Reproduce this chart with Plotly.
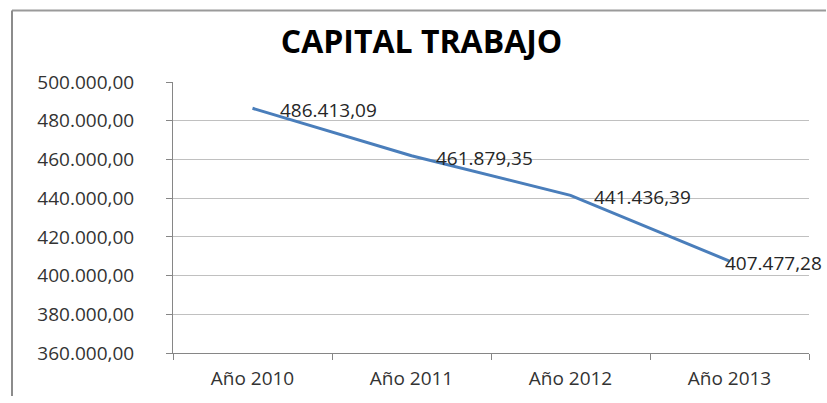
import plotly.graph_objects as go

# Working capital by year
years = ["Año 2010", "Año 2011", "Año 2012", "Año 2013"]
capital = [486413.09, 461879.35, 441436.39, 407477.28]
y_ticks = [360000, 380000, 400000, 420000, 440000, 460000, 480000, 500000]

# horizontal nudge (px) of each value label from its point
label_shift = [25, 22, 21, -7]

FONT = "Open Sans"
W, H = 827, 403
L, R, T, B = 173, 18, 82, 44


def es_number(v):
    s = f"{v:,.2f}"
    return s.replace(",", "X").replace(".", ",").replace("X", ".")


fig = go.Figure()
fig.add_trace(go.Scatter(
    x=years, y=capital, mode="lines",
    line=dict(color="#4A7EBB", width=3),
    hoverinfo="skip", showlegend=False,
))

for yr, v, dx in zip(years, capital, label_shift):
    fig.add_annotation(
        x=yr, y=v, text=es_number(v), showarrow=False,
        xanchor="left", yanchor="middle", xshift=dx, yshift=-2,
        font=dict(family=FONT, size=19, color="#262626"),
    )

pw = W - L - R
ph = H - T - B
# chart-area frame: left and top edges
x_left = (12 - L) / pw
x_right = (W - 1 - L) / pw
y_top = (H - B - 9) / ph
fig.add_shape(type="line", xref="paper", yref="paper",
              x0=x_left, x1=x_right, y0=y_top, y1=y_top,
              line=dict(color="#9A9A9A", width=2), layer="above")
fig.add_shape(type="line", xref="paper", yref="paper",
              x0=x_left, x1=x_left, y0=-B / ph, y1=y_top,
              line=dict(color="#8C8C8C", width=2), layer="above")

fig.update_layout(
    width=W, height=H,
    margin=dict(l=L, r=R, t=T, b=B),
    paper_bgcolor="white", plot_bgcolor="white",
    separators=",.",
    title=dict(
        text="<b>CAPITAL TRABAJO</b>",
        x=421.5 / W, xanchor="center", xref="container",
        y=1 - 42 / H, yanchor="middle", yref="container",
        font=dict(family=FONT, size=32, color="#000000"),
    ),
    xaxis=dict(
        type="category", range=[-0.5, 3.5],
        showline=True, linecolor="#868686", linewidth=1,
        ticks="outside", ticklen=6, tickcolor="#868686",
        tickson="boundaries", showgrid=False,
        tickfont=dict(family=FONT, size=19, color="#333333"),
        ticklabelstandoff=8,
    ),
    yaxis=dict(
        range=[360000, 500000],
        tickvals=y_ticks, tickformat=",.2f",
        showline=True, linecolor="#868686", linewidth=1,
        ticks="outside", ticklen=6, tickcolor="#868686",
        showgrid=True, gridcolor="#C0C0C0", gridwidth=1,
        zeroline=False,
        tickfont=dict(family=FONT, size=19, color="#333333"),
        ticklabelstandoff=28,
    ),
)

fig.write_html("out.html", config={"displayModeBar": False})
